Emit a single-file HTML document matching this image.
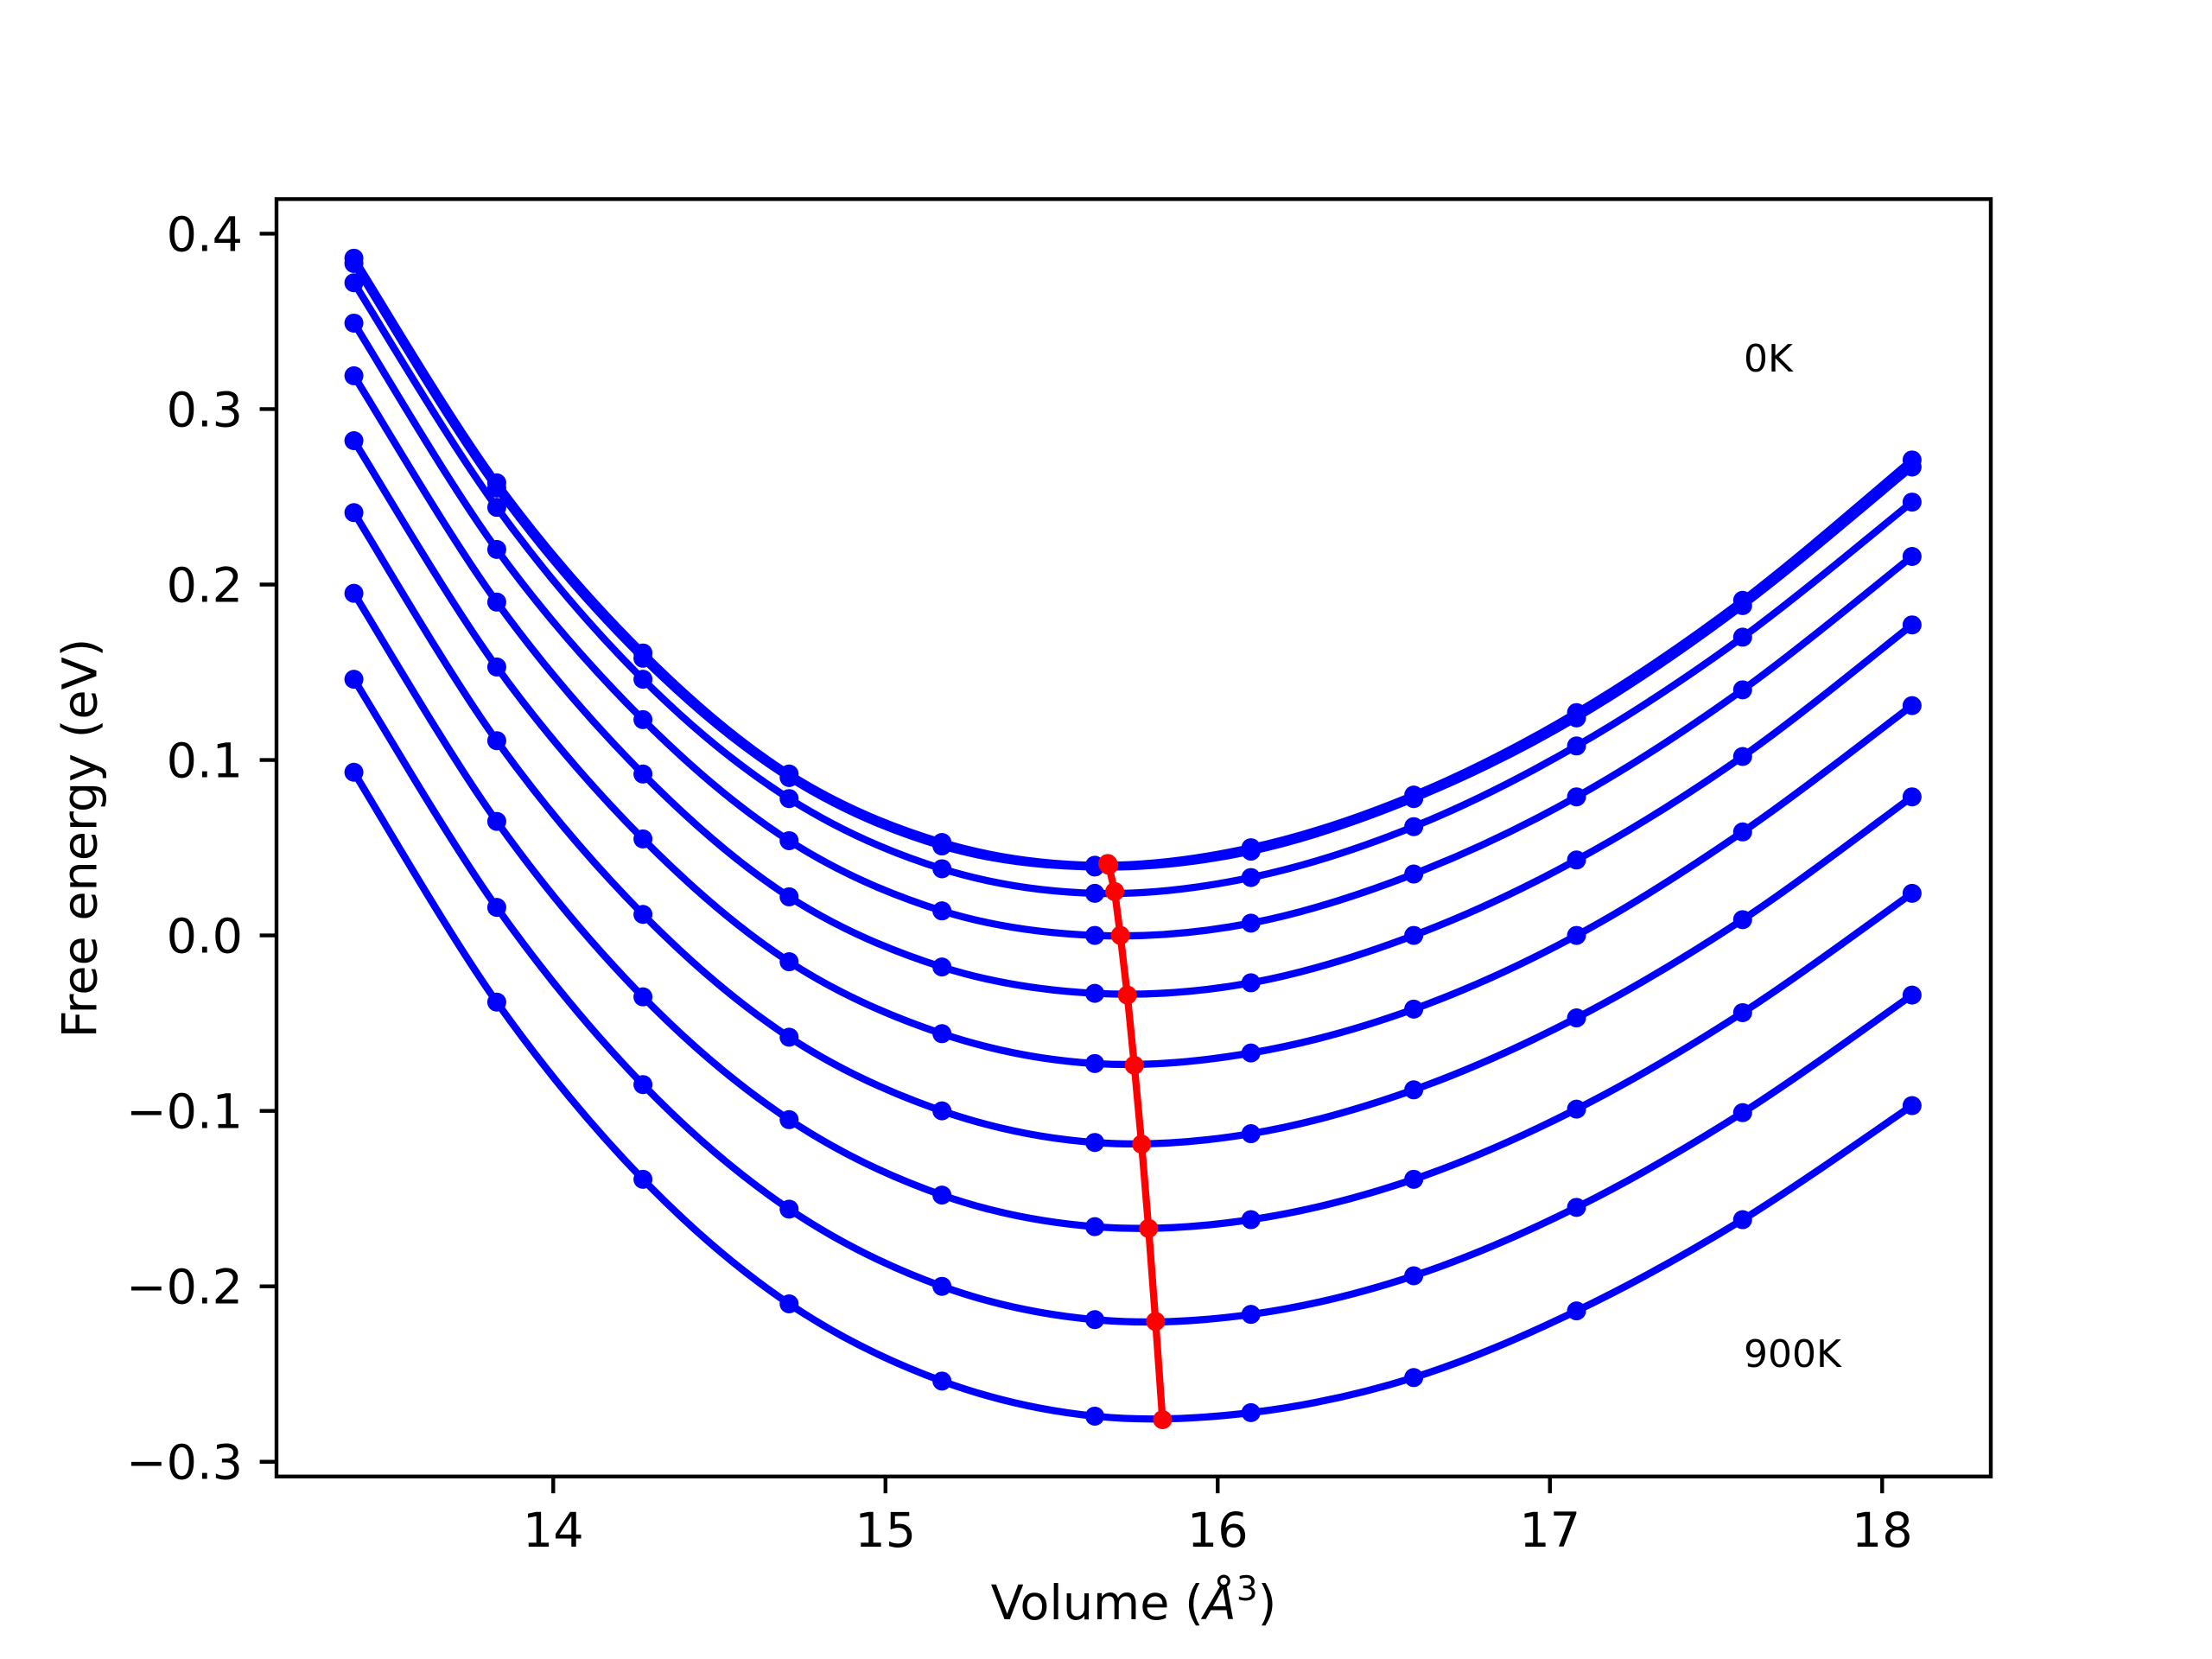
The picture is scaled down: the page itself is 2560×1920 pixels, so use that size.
<!DOCTYPE html>
<html><head><meta charset="utf-8"><style>
html,body{margin:0;padding:0;background:#fff;}
svg{display:block;font-family:"DejaVu Sans","Liberation Sans",sans-serif;}
</style></head><body>
<svg id="chart" width="2560" height="1920" viewBox="0 0 2560 1920" xmlns="http://www.w3.org/2000/svg">
<rect width="2560" height="1920" fill="#fff"/>
<g id="plot"></g>
<g id="axes"></g>
<text x="2018" y="430" font-size="44" fill="#000">0K</text>
<text x="2018" y="1582" font-size="44" fill="#000">900K</text>
<text x="1312" y="1874" font-size="55.6" text-anchor="middle" fill="#000">Volume (<tspan font-style="italic">Å</tspan><tspan font-size="39" dy="-22">3</tspan><tspan dy="22">)</tspan></text>
<text transform="translate(93,970) rotate(-90)" font-size="55.6" text-anchor="middle" dominant-baseline="central" fill="#000">Free energy (eV)</text>
</svg>
<script>
const volumes = [13.40, 13.83, 14.27, 14.71, 15.17, 15.63, 16.10, 16.59, 17.08, 17.58, 18.09];
const energies0 = [0.386, 0.258, 0.161, 0.092, 0.053, 0.040, 0.050, 0.080, 0.127, 0.191, 0.271];
const energies1 = [0.383, 0.255, 0.158, 0.090, 0.051, 0.039, 0.048, 0.078, 0.124, 0.188, 0.267];
const energies2 = [0.372, 0.244, 0.146, 0.078, 0.038, 0.024, 0.033, 0.062, 0.108, 0.170, 0.247];
const energies3 = [0.349, 0.220, 0.123, 0.054, 0.014, 0.000, 0.007, 0.035, 0.079, 0.140, 0.216];
const energies4 = [0.319, 0.190, 0.092, 0.022, -0.018, -0.033, -0.027, 0.000, 0.043, 0.102, 0.177];
const energies5 = [0.282, 0.153, 0.055, -0.015, -0.056, -0.073, -0.067, -0.042, 0.000, 0.059, 0.131];
const energies6 = [0.241, 0.111, 0.012, -0.058, -0.100, -0.118, -0.113, -0.088, -0.047, 0.009, 0.079];
const energies7 = [0.195, 0.065, -0.035, -0.105, -0.148, -0.166, -0.162, -0.139, -0.099, -0.044, 0.024];
const energies8 = [0.146, 0.016, -0.085, -0.156, -0.200, -0.219, -0.216, -0.194, -0.155, -0.101, -0.034];
const energies9 = [0.093, -0.038, -0.139, -0.210, -0.254, -0.274, -0.272, -0.252, -0.214, -0.162, -0.097];
const minVolumes = [15.669, 15.672, 15.690, 15.707, 15.728, 15.749, 15.771, 15.792, 15.813, 15.834];
const minEnergies = [0.041, 0.040, 0.025, 0.000, -0.034, -0.074, -0.119, -0.167, -0.220, -0.276];
const xTicks = [14, 15, 16, 17, 18];
const yTicks = [0.4, 0.3, 0.2, 0.1, 0.0, -0.1, -0.2, -0.3];
const yTickLabels = ["0.4", "0.3", "0.2", "0.1", "0.0", "\u22120.1", "\u22120.2", "\u22120.3"];

const NS = "http://www.w3.org/2000/svg";
const L = 320, R = 2304, T = 230.4, B = 1708.8;
const xMin = 13.167, xMax = 18.327, yMin = -0.3084, yMax = 0.4197;
function sx(v){ return L + (v - xMin) / (xMax - xMin) * (R - L); }
function sy(v){ return B - (v - yMin) / (yMax - yMin) * (B - T); }
function mk(tag, attrs, parent){ const e = document.createElementNS(NS, tag); for (const k in attrs) e.setAttribute(k, attrs[k]); parent.appendChild(e); return e; }

const plot = document.getElementById('plot');
const axes = document.getElementById('axes');

function smoothPath(xs, ys){
  const px = xs.map(sx), py = ys.map(sy);
  let d = 'M' + px[0] + ',' + py[0];
  for (let i = 0; i < px.length - 1; i++){
    const x0 = px[Math.max(i-1,0)], y0 = py[Math.max(i-1,0)];
    const x3 = px[Math.min(i+2,px.length-1)], y3 = py[Math.min(i+2,px.length-1)];
    const c1x = px[i] + (px[i+1]-x0)/6, c1y = py[i] + (py[i+1]-y0)/6;
    const c2x = px[i+1] - (x3-px[i])/6, c2y = py[i+1] - (y3-py[i])/6;
    d += ' C' + c1x + ',' + c1y + ' ' + c2x + ',' + c2y + ' ' + px[i+1] + ',' + py[i+1];
  }
  return d;
}

const series = [energies0, energies1, energies2, energies3, energies4, energies5, energies6, energies7, energies8, energies9];
series.forEach((ys, si) => {
  const p = mk('path', {d: smoothPath(volumes, ys), fill: 'none', stroke: '#0000ff', 'stroke-width': 8.3, 'stroke-linejoin': 'round'}, plot);
  
  
  ys.forEach((y, i) => {
    const c = mk('circle', {cx: sx(volumes[i]), cy: sy(y), r: 11, fill: '#0000ff'}, plot);
    
    
  });
});

let dmin = '';
minVolumes.forEach((v, i) => { dmin += (i ? ' L' : 'M') + sx(v) + ',' + sy(minEnergies[i]); });
const mline = mk('path', {d: dmin, fill: 'none', stroke: '#ff0000', 'stroke-width': 8.3, 'stroke-linejoin': 'round'}, plot);


minVolumes.forEach((v, i) => {
  const c = mk('circle', {cx: sx(v), cy: sy(minEnergies[i]), r: 11, fill: '#ff0000'}, plot);
  
  
});

const frame = mk('rect', {x: L, y: T, width: R - L, height: B - T, fill: 'none', stroke: '#000', 'stroke-width': 4.4}, axes);



xTicks.forEach(v => {
  const t = mk('line', {x1: sx(v), x2: sx(v), y1: B, y2: B + 19.4, stroke: '#000', 'stroke-width': 4.4}, axes);
  
  
  const tx = mk('text', {x: sx(v), y: B + 81, 'font-size': 55.6, 'text-anchor': 'middle', fill: '#000'}, axes);
  tx.textContent = String(v);
  
  
});
yTicks.forEach((v, i) => {
  const t = mk('line', {x1: L - 19.4, x2: L, y1: sy(v), y2: sy(v), stroke: '#000', 'stroke-width': 4.4}, axes);
  
  
  const tx = mk('text', {x: L - 39, y: sy(v) + 20, 'font-size': 55.6, 'text-anchor': 'end', fill: '#000'}, axes);
  tx.textContent = yTickLabels[i];
  
  
});
</script>
</body></html>
